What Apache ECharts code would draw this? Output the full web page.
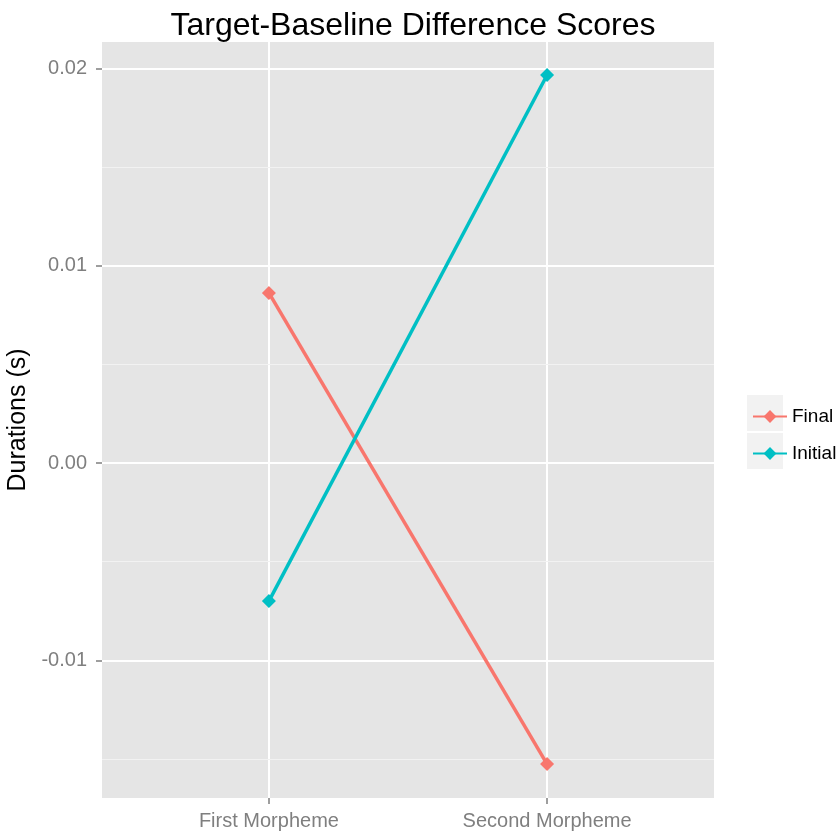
<!DOCTYPE html>
<html>
<head>
<meta charset="utf-8">
<script src="https://cdn.jsdelivr.net/npm/echarts@6/dist/echarts.min.js"></script>
<style>
  html, body { margin: 0; padding: 0; background: #fff; }
  #main { width: 837px; height: 834px; }
</style>
</head>
<body>
<div id="main"></div>
<script>
var categories = ['First Morpheme', 'Second Morpheme'];
var catPos = [1, 2];
var finalVals = [0.00862, -0.01526];
var initialVals = [-0.0070, 0.01967];
var yTicks = [-0.01, 0, 0.01, 0.02];
var yMinor = [-0.015, -0.005, 0.005, 0.015];

function pairs(vals) {
  var out = [];
  for (var i = 0; i < vals.length; i++) out.push([catPos[i], vals[i]]);
  return out;
}

var font = 'Liberation Sans, Arial, sans-serif';
var chart = echarts.init(document.getElementById('main'));
var option = {
  backgroundColor: '#fff',
  animation: false,
  title: {
    text: 'Target-Baseline Difference Scores',
    left: 408, top: 5, textAlign: 'center',
    textStyle: { fontFamily: font, fontSize: 32, fontWeight: 'normal', color: '#000' }
  },
  legend: {
    orient: 'vertical',
    left: 747, top: 402,
    itemWidth: 34, itemHeight: 16, itemGap: 18,
    textStyle: { fontFamily: font, fontSize: 19, color: '#000' },
    data: ['Final', 'Initial']
  },
  graphic: [
    { type: 'rect', left: 747, top: 395, shape: { width: 36, height: 36 }, style: { fill: '#F2F2F2' }, z: -1 },
    { type: 'rect', left: 747, top: 433, shape: { width: 36, height: 36 }, style: { fill: '#F2F2F2' }, z: -1 }
  ],
  grid: {
    left: 102, top: 42, right: 123, bottom: 36,
    outerBoundsMode: 'none', containLabel: false,
    backgroundColor: '#E5E5E5', show: true, borderWidth: 0
  },
  xAxis: {
    type: 'value', min: 0.4, max: 2.6,
    axisLine: { show: false, onZero: false },
    axisTick: { show: true, length: 6, lineStyle: { color: '#7F7F7F', width: 1.5 }, customValues: catPos },
    axisLabel: {
      customValues: catPos, margin: 13,
      fontFamily: font, fontSize: 20, color: '#7F7F7F',
      formatter: function (v) { return categories[Math.round(v) - 1] || ''; }
    },
    splitLine: { show: true, lineStyle: { color: '#fff', width: 2 } }
  },
  yAxis: [{
    type: 'value', min: -0.01698, max: 0.02134,
    name: 'Durations (s)', nameLocation: 'middle', nameGap: 65,
    nameTextStyle: { fontFamily: font, fontSize: 25, color: '#000' },
    axisLine: { show: false, onZero: false },
    axisTick: { show: true, length: 6, lineStyle: { color: '#7F7F7F', width: 1.5 }, customValues: yTicks },
    axisLabel: {
      customValues: yTicks, margin: 15,
      fontFamily: font, fontSize: 20, color: '#7F7F7F',
      formatter: function (v) { return v.toFixed(2); }
    },
    splitLine: { show: true, lineStyle: { color: '#fff', width: 2 } },
    z: 2
  }, {
    type: 'value', min: -0.01698, max: 0.02134, position: 'left',
    axisLine: { show: false, onZero: false },
    axisTick: { show: false, customValues: yMinor },
    axisLabel: { show: false, customValues: yMinor },
    splitLine: { show: true, lineStyle: { color: '#F2F2F2', width: 1 } },
    z: 1
  }],
  series: [{
    name: 'Final', type: 'line', data: pairs(finalVals),
    symbol: 'diamond', symbolSize: 14, showSymbol: true,
    lineStyle: { color: '#F8766D', width: 3.5 },
    itemStyle: { color: '#F8766D' }
  }, {
    name: 'Initial', type: 'line', data: pairs(initialVals),
    symbol: 'diamond', symbolSize: 14, showSymbol: true,
    lineStyle: { color: '#00BFC4', width: 3.5 },
    itemStyle: { color: '#00BFC4' }
  }]
};
chart.setOption(option);
</script>
</body>
</html>
